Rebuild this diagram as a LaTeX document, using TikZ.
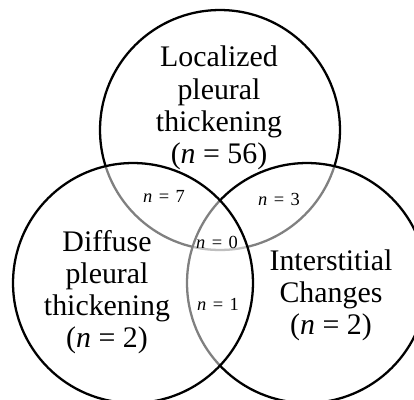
\documentclass[tikz,border=0pt]{standalone}
\usepackage{fontspec}
\setmainfont{Liberation Serif}
\usetikzlibrary{positioning}
\tikzset{
  set/.style={circle,draw=black,line width=1.3pt,minimum size=4.8cm,inner sep=0pt},
  cover/.style={fill=white,fill opacity=0.5},
  big/.style={font=\fontsize{17}{18.3}\selectfont,align=center,inner sep=0pt},
  small/.style={font=\fontsize{10.5}{12}\selectfont,inner sep=0pt},
}
\newcommand{\nis}[1]{\textit{n}\hspace{0.35em}=\hspace{0.35em}#1}

\begin{document}
\begin{tikzpicture}[x=0.02cm,y=-0.02cm]
\useasboundingbox (0,0) rectangle (414,400);
% the three sets, later ones grey out what lies under them
\node[set] (loc) at (220,130) {};
\node[set,cover] (int) at (307,283) {};
\node[set,cover] (dif) at (133,283) {};
\node[big] (loclab) at (219,108) {Localized\\pleural\\thickening\\(\textit{n} = 56)};
\node[big] (diflab) at (107,292) {Diffuse\\pleural\\thickening\\(\textit{n} = 2)};
\node[big] (intlab) at (331,295) {Interstitial\\Changes\\(\textit{n} = 2)};
% overlaps
\node[small] (locdif) at (164,196) {\nis{7}};
\node[small] (locint) at (279,199) {\nis{3}};
\node[small] (all) at (217,242) {\nis{0}};
\node[small] (difint) at (218,304) {\nis{1}};
\end{tikzpicture}
\end{document}
